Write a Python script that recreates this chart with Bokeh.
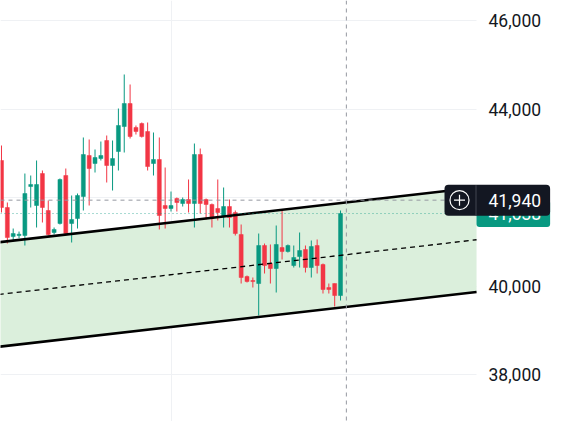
from bokeh.plotting import figure
from bokeh.models import (Range1d, FixedTicker, NumeralTickFormatter, Span, Label,
                          ColumnDataSource, LinearAxis)
from bokeh.embed import file_html
from bokeh.resources import INLINE

# ---- data ----
opens = [42836, 41774, 41118, 41140, 41141, 42248, 41819, 42542, 41706, 41209,
         41412, 42497, 41412, 41525, 42022, 42949, 42768, 42881, 43288, 42723,
         43039, 43604, 44124, 43582, 43672, 43491, 42768, 42859, 41819, 41751,
         41977, 41864, 41955, 41864, 42972, 41955, 41842, 41751, 41570, 41796,
         41661, 41164, 40214, 40124, 40056, 40915, 40508, 40395, 40870, 40779,
         40463, 40666, 40825, 40418, 40915, 40486, 39966, 40056, 39785]
highs = [43175, 41887, 41299, 41230, 42542, 42497, 42836, 42610, 41932, 41322,
         42430, 42655, 42045, 42090, 43356, 43311, 43085, 43265, 43401, 43288,
         44011, 44780, 44554, 43627, 43695, 43695, 43469, 43356, 42678, 42135,
         42000, 42000, 42407, 43220, 43107, 41977, 41864, 42407, 42226, 41955,
         41706, 41390, 40237, 40192, 41186, 40960, 40938, 41367, 41729, 40938,
         40915, 41209, 40915, 41028, 41051, 40508, 40056, 40056, 41706]
lows = [41661, 40960, 41028, 41080, 40915, 41774, 41322, 41435, 41141, 41164,
        41390, 41141, 40983, 41299, 41706, 41819, 42565, 42836, 42339, 42158,
        42610, 43017, 43333, 43424, 43355, 42610, 42497, 41277, 41299, 41683,
        41683, 41796, 41661, 41322, 41638, 41503, 41322, 41480, 41322, 41322,
        41141, 40056, 40079, 39966, 39333, 40282, 40056, 39853, 40599, 40757,
        40418, 40418, 40305, 40192, 40282, 39830, 39830, 39536, 39672]
closes = [41774, 41096, 41186, 41170, 42090, 42294, 42294, 41774, 41164, 41277,
          42407, 41186, 41503, 42045, 42972, 42655, 42904, 42949, 42723, 42881,
          43627, 44124, 43378, 43491, 43378, 42700, 42859, 41593, 41751, 41819,
          41887, 41955, 41864, 42972, 41864, 41842, 41525, 41661, 41796, 41548,
          41186, 40192, 40101, 40101, 40915, 40463, 40395, 40938, 40779, 40915,
          40644, 40802, 40418, 40892, 40463, 39921, 39921, 39785, 41638]

price_ticks = [38000, 40000, 42000, 44000, 46000]
time_grid = [29]

# parallel channel (anchor points: candle index, price)
channel_x = [-2, 81.27]
channel_upper = [40966, 42226]
channel_mid = [39786, 41045]
channel_lower = [38605, 39864]

crosshair_index = 59
crosshair_price = 41940
crosshair_text = "41,940"
last_text = "41,638"

UP = "#089981"
DOWN = "#F23645"

idx = list(range(len(opens)))
colors = [UP if c >= o else DOWN for o, c in zip(opens, closes)]
src = ColumnDataSource(dict(
    x=idx, o=opens, h=highs, l=lows, c=closes,
    top=[max(o, c) for o, c in zip(opens, closes)],
    bottom=[min(o, c) for o, c in zip(opens, closes)],
    color=colors,
))

W, H = 557, 421
x_start, x_end = -0.171, 95.12
y_start, y_end = 36938, 46452
px = W / (x_end - x_start)          # pixels per candle
py = H / (y_end - y_start)          # pixels per price unit
x_axis_at = x_start + 476 / px      # price scale boundary

p = figure(width=W, height=H,
           x_range=Range1d(x_start, x_end), y_range=Range1d(y_start, y_end),
           output_backend="svg", toolbar_location=None,
           x_axis_location=None, y_axis_location=None,
           min_border=0)
p.outline_line_color = None
p.background_fill_color = "white"
p.border_fill_color = "white"

ax = LinearAxis(fixed_location=x_axis_at)
ax.ticker = FixedTicker(ticks=price_ticks)
ax.formatter = NumeralTickFormatter(format="0,0")
ax.major_label_overrides = {42000: ""}
ax.axis_line_color = None
ax.major_tick_line_color = None
ax.minor_tick_line_color = None
ax.major_tick_out = 0
ax.major_tick_in = 0
ax.major_label_standoff = 12
ax.major_label_text_font = "Roboto"
ax.major_label_text_font_size = "17.5px"
ax.major_label_text_color = "#131722"
p.add_layout(ax, "right")

p.ygrid.ticker = FixedTicker(ticks=price_ticks)
p.ygrid.grid_line_color = "#eff1f4"
p.ygrid.cross_bounds = (x_start, x_axis_at)
p.xgrid.ticker = FixedTicker(ticks=time_grid)
p.xgrid.grid_line_color = "#eff1f4"

# channel fill
p.varea(x=channel_x, y1=channel_lower, y2=channel_upper, fill_color="#dbefdc")

# candles
p.segment(x0="x", y0="h", x1="x", y1="l", color="color", line_width=1, source=src)
p.vbar(x="x", top="top", bottom="bottom", width=0.68, fill_color="color",
       line_color="color", line_width=0.5, source=src)

# channel lines
p.line(channel_x, channel_upper, line_color="black", line_width=2.6)
p.line(channel_x, channel_lower, line_color="black", line_width=2.6)
p.line(channel_x, channel_mid, line_color="black", line_width=1.3, line_dash="5 4")

# price line & crosshair
p.segment(x0=[x_start], x1=[x_axis_at], y0=[closes[-1]], y1=[closes[-1]],
          line_color=UP, line_alpha=0.7, line_dash="1 3", line_width=1)
p.segment(x0=[x_start], x1=[x_axis_at], y0=[crosshair_price], y1=[crosshair_price],
          line_color="#9598a1", line_dash="4 4", line_width=1)
p.add_layout(Span(location=crosshair_index, dimension="height", line_color="#9598a1",
                  line_dash="4 4", line_width=1))

# price labels on the scale
p.add_layout(Label(x=x_axis_at, y=closes[-1], text=last_text, text_color="white",
                   text_font="Roboto", text_font_size="17.5px",
                   text_align="left", text_baseline="middle",
                   background_fill_color=UP, border_radius=3,
                   padding=dict(left=12, right=9, top=7, bottom=7)))
p.add_layout(Label(x=x_axis_at - 32 / px, y=crosshair_price, text=crosshair_text, text_color="white",
                   text_font="Roboto", text_font_size="17.5px",
                   text_align="left", text_baseline="middle",
                   background_fill_color="#131722", border_radius=4,
                   padding=dict(left=44, right=9, top=9, bottom=9)))

# plus button icon and divider
icon_x = x_axis_at - 17 / px
r1 = p.scatter([icon_x], [crosshair_price], marker="circle", size=19, fill_color=None,
               line_color="white", line_width=1.2)
r2 = p.scatter([icon_x], [crosshair_price], marker="cross", size=11, line_color="white", line_width=1.2)
r3 = p.segment(x0=[x_axis_at - 0.5 / px], x1=[x_axis_at - 0.5 / px],
               y0=[crosshair_price - 15 / py], y1=[crosshair_price + 15 / py],
               line_color="#434651", line_width=1)
for r in (r1, r2, r3):
    r.level = "overlay"

open("out.html", "w").write(file_html(p, INLINE))
